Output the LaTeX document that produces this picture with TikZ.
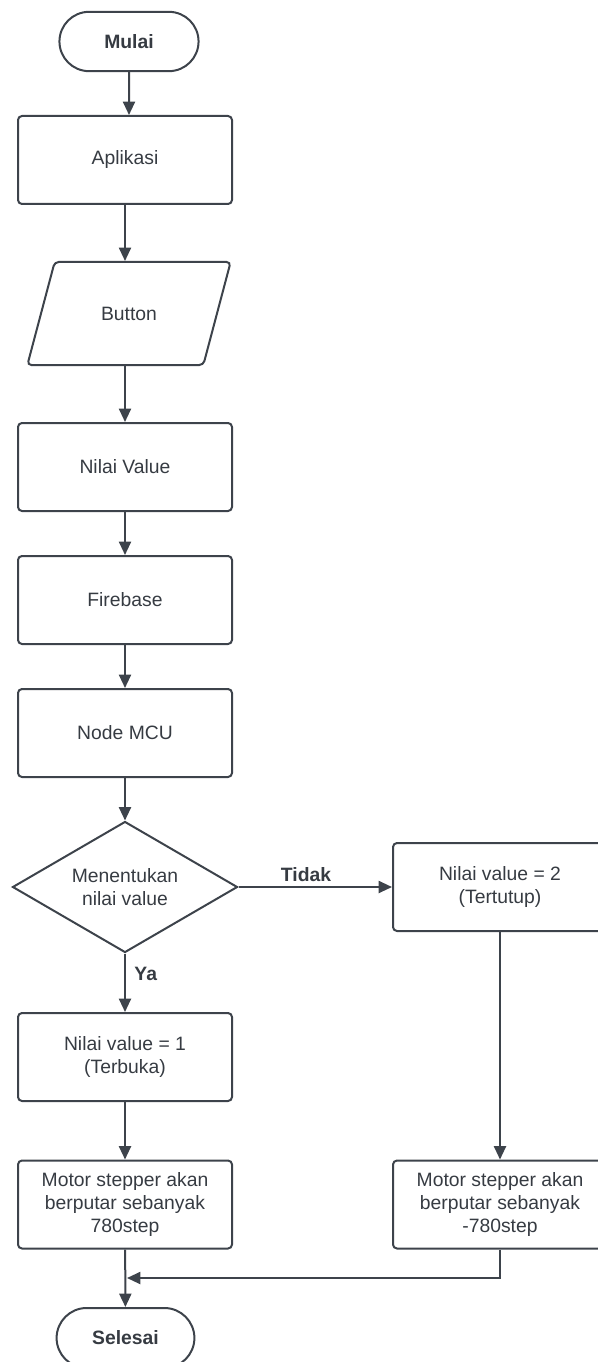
\documentclass[tikz,border=0pt]{standalone}
\usepackage{fontspec}
\setmainfont{Liberation Sans}
\usepackage{xcolor}
\usetikzlibrary{
    arrows.meta,
    shapes.geometric,
    shapes.misc,
    positioning
}
\definecolor{lineclr}{HTML}{3D434B}
\definecolor{txtclr}{HTML}{363B42}

\begin{document}
\begin{tikzpicture}[x=0.75pt, y=0.75pt,
    every node/.style={font=\fontsize{14.5}{17.1}\selectfont, text=txtclr},
    process/.style={draw=lineclr, line width=1.5pt, rounded corners=3pt,
        minimum width=160.5pt, minimum height=66pt, align=center, inner sep=2pt},
    terminal/.style={draw=lineclr, line width=1.5pt, rounded rectangle,
        minimum height=44.5pt, font=\bfseries\fontsize{14.5}{17.1}\selectfont},
    inout/.style={draw=lineclr, line width=1.5pt, rounded corners=3pt, trapezium,
        trapezium left angle=62, trapezium right angle=118, trapezium stretches=true,
        minimum width=153pt, minimum height=77.25pt},
    decision/.style={draw=lineclr, line width=1.5pt, diamond, aspect=1.72,
        minimum width=168.75pt, minimum height=98.25pt, inner sep=0pt, align=center},
    lbl/.style={font=\bfseries\fontsize{14.5}{17.1}\selectfont},
    arrow/.style={draw=lineclr, line width=1.5pt, -{Triangle[length=10pt, width=9pt]}}]
                                \useasboundingbox (0, 0) rectangle (597, -1362);
                                \node[terminal, minimum width=111pt] (mulai) at (129, -41.5) {Mulai};
                                \node[process] (aplikasi) at (125, -160) {Aplikasi};
                                \node[inout] (button) at (129, -313.5) {Button};
                                \node[process] (nilai) at (125, -467) {Nilai Value};
                                \node[process] (firebase) at (125, -600) {Firebase};
                                \node[process] (mcu) at (125, -733) {Node MCU};
                                \node[decision] (decide) at (125, -887) {Menentukan\\nilai value};
                                \node[process] (buka) at (125, -1057) {Nilai value = 1\\(Terbuka)};
                                \node[process] (motorA) at (125, -1204.5) {Motor stepper akan\\berputar sebanyak\\780step};
                                \node[process] (tutup) at (500, -887) {Nilai value = 2\\(Tertutup)};
                                \node[process] (motorB) at (500, -1204.5) {Motor stepper akan\\berputar sebanyak\\-780step};
                                \node[terminal, minimum width=110pt, minimum height=45pt] (selesai) at (125.5, -1338) {Selesai};
                                \coordinate (join) at (127, -1278);
                                \draw[arrow] (mulai) -- (mulai |- aplikasi.north);
                                \draw[arrow] (aplikasi) -- (aplikasi |- button.north);
                                \draw[arrow] (nilai |- button.south) -- (nilai);
                                \draw[arrow] (nilai) -- (firebase);
                                \draw[arrow] (firebase) -- (mcu);
                                \draw[arrow] (mcu) -- (decide);
                                \draw[arrow] (decide) -- node[lbl, above, pos=0.44] {Tidak} (tutup);
                                \draw[arrow] (decide) -- node[lbl, right, pos=0.35, xshift=3pt] {Ya} (buka);
                                \draw[arrow] (buka) -- (motorA);
                                \draw[arrow] (tutup) -- (motorB);
                                \draw[arrow] (motorA) -- (selesai);
                                \draw[arrow] (motorB.south) |- (join);
                            \end{tikzpicture}
\end{document}
